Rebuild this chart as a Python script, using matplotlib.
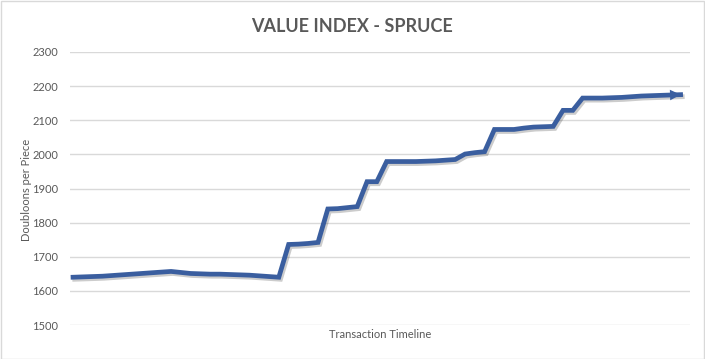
import matplotlib
matplotlib.use('Agg')
import matplotlib.pyplot as plt
import matplotlib.patheffects as pe
import numpy as np

# value index readings along the transaction timeline
values = [1640, 1641, 1642, 1643, 1645, 1647, 1649, 1651, 1653, 1655,
          1657, 1654, 1651, 1650, 1649, 1649, 1648, 1647, 1646, 1644,
          1642, 1640, 1736, 1737, 1739, 1742, 1840, 1841, 1844, 1847,
          1920, 1920, 1979, 1979, 1979, 1979, 1980, 1981, 1983, 1985,
          2001, 2005, 2008, 2073, 2073, 2073, 2077, 2080, 2081, 2082,
          2129, 2129, 2165, 2165, 2165, 2166, 2167, 2169, 2171, 2172,
          2173, 2174, 2175]
y_ticks = [1500, 1600, 1700, 1800, 1900, 2000, 2100, 2200, 2300]
title = 'VALUE INDEX - SPRUCE'
xlabel = 'Transaction Timeline'
ylabel = 'Doubloons per Piece'

plt.rcParams['font.family'] = ['Lato', 'DejaVu Sans']
grey = '#595959'
blue = '#3A5E9F'

W, H = 705, 359
fig = plt.figure(figsize=(W / 100, H / 100), dpi=100)
ax = fig.add_axes([70 / W, 1 - 325 / H, 620 / W, 273 / H])

x = np.arange(len(values))
ax.plot(x, values, color=blue, lw=3.4, solid_joinstyle='miter',
        path_effects=[pe.SimpleLineShadow(offset=(1.2, -1.5), alpha=0.2),
                      pe.Normal()])
ax.annotate('', xy=(x[-1], values[-1]), xytext=(x[-2], values[-2]),
            arrowprops=dict(arrowstyle='-|>', color=blue, lw=0,
                            mutation_scale=19, shrinkA=0, shrinkB=0))

ax.set_xlim(-0.31, 62.96)
ax.set_ylim(1500, 2300)
ax.set_yticks(y_ticks)
ax.set_xticks([])
ax.yaxis.grid(True, color='#D9D9D9', lw=1)
ax.set_axisbelow(True)
for s in ax.spines.values():
    s.set_visible(False)
ax.tick_params(axis='y', length=0, pad=8.5, labelsize=8, labelcolor=grey)

ax.set_xlabel(xlabel, fontsize=8, color=grey, labelpad=3)
fig.text(27 / W, 1 - 190 / H, ylabel, rotation=90, fontsize=8, color=grey,
         ha='center', va='center')
fig.text(352 / W, 1 - 27 / H, title, fontsize=13, fontweight='bold',
         color=grey, ha='center', va='center')

fig.patches.append(plt.Rectangle((0.5 / W, 0.5 / H), 1 - 1.5 / W, 1 - 1.5 / H,
                                 transform=fig.transFigure, fill=False,
                                 edgecolor='#D9D9D9', lw=1))

fig.savefig('out.png', dpi=100, facecolor='white')
